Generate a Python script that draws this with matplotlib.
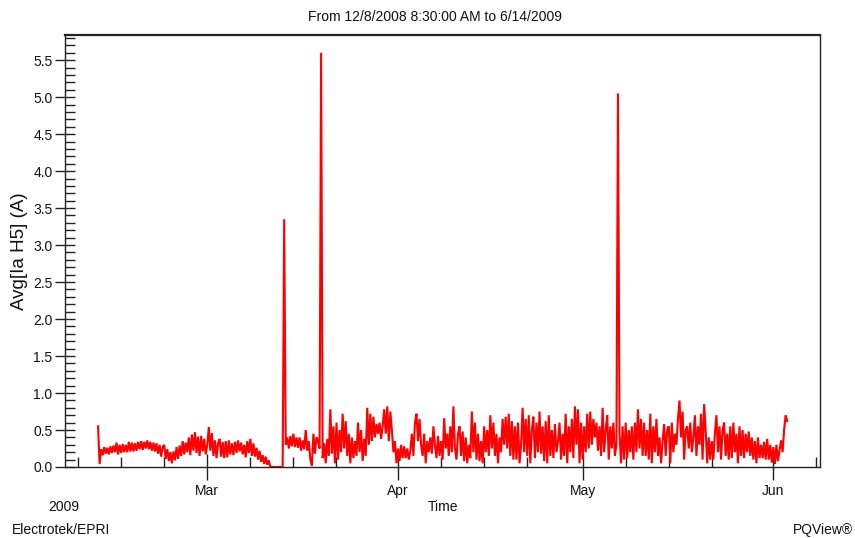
import matplotlib
matplotlib.use("Agg")
import matplotlib.pyplot as plt
import matplotlib.dates as mdates
from matplotlib.ticker import MultipleLocator, FormatStrFormatter
import pandas as pd

plt.rcParams['font.family'] = ['Liberation Sans', 'DejaVu Sans']

# ---- data (Avg Ia H5, amps), sampled every 6 hours ----
feb_start = "2009-02-11 06:00"
feb_vals = [0.55, 0.04, 0.24,
            0.16, 0.27, 0.18, 0.26,
            0.17, 0.28, 0.19, 0.29,
            0.20, 0.33, 0.17, 0.30,
            0.19, 0.31, 0.20, 0.30,
            0.20, 0.34, 0.21, 0.33,
            0.21, 0.32, 0.22, 0.34,
            0.24, 0.35, 0.23, 0.34,
            0.25, 0.36, 0.24, 0.34,
            0.22, 0.33, 0.21, 0.32,
            0.18, 0.30, 0.14, 0.27,
            0.30, 0.11, 0.24, 0.08,
            0.20, 0.05, 0.21, 0.09,
            0.27, 0.11, 0.29, 0.15,
            0.35, 0.17, 0.33, 0.20,
            0.40, 0.16, 0.44, 0.22,
            0.47, 0.19, 0.41, 0.15,
            0.42, 0.21, 0.38, 0.17]

mar_start = "2009-03-01 00:00"
mar_vals = [0.30, 0.54, 0.22, 0.46,
            0.15, 0.36, 0.12, 0.32,
            0.38, 0.14, 0.34, 0.12,
            0.35, 0.13, 0.36, 0.17,
            0.32, 0.16, 0.34, 0.19,
            0.36, 0.21, 0.33, 0.17,
            0.30, 0.13, 0.35, 0.19,
            0.38, 0.15, 0.32, 0.14,
            0.26, 0.10, 0.22, 0.07,
            0.16, 0.04, 0.14, 0.03,
            0.09, 0.00, 0.00, 0.00,
            0.00, 0.00, 0.00, 0.00,
            0.00, 0.00, 3.35, 0.30,
            0.40, 0.25, 0.42, 0.28,
            0.45, 0.27, 0.40, 0.26,
            0.40, 0.22, 0.36, 0.24,
            0.50, 0.22, 0.35, 0.10,
            0.02, 0.45, 0.18, 0.40,
            0.35, 0.25, 5.60, 0.12,
            0.32, 0.05, 0.38, 0.15,
            0.78, 0.18, 0.55, 0.05,
            0.60, 0.10, 0.50, 0.20,
            0.72, 0.25, 0.62, 0.15,
            0.45, 0.05, 0.40, 0.12,
            0.35, 0.15, 0.60, 0.20,
            0.50, 0.08, 0.38, 0.15,
            0.80, 0.30, 0.72, 0.35,
            0.68, 0.40, 0.58, 0.45,
            0.60, 0.38, 0.55, 0.78,
            0.45, 0.82, 0.35, 0.75,
            0.50, 0.20, 0.35, 0.05]

apr_start = "2009-04-01 00:00"
apr_vals = [0.25, 0.08, 0.30, 0.12,
            0.28, 0.12, 0.25, 0.10,
            0.22, 0.45, 0.15, 0.60,
            0.72, 0.35, 0.65, 0.30,
            0.15, 0.45, 0.05, 0.35,
            0.20, 0.40, 0.18, 0.55,
            0.30, 0.12, 0.42, 0.15,
            0.35, 0.10, 0.66, 0.25,
            0.45, 0.15, 0.55, 0.20,
            0.82, 0.25, 0.10, 0.45,
            0.55, 0.15, 0.48, 0.08,
            0.40, 0.05, 0.30, 0.12,
            0.75, 0.20, 0.60, 0.10,
            0.45, 0.08, 0.35, 0.05,
            0.55, 0.20, 0.50, 0.15,
            0.70, 0.25, 0.60, 0.15,
            0.45, 0.05, 0.40, 0.20,
            0.65, 0.30, 0.68, 0.25,
            0.72, 0.15, 0.62, 0.10,
            0.55, 0.10, 0.60, 0.05,
            0.30, 0.80, 0.20, 0.65,
            0.15, 0.70, 0.05, 0.50,
            0.68, 0.12, 0.60, 0.20,
            0.75, 0.18, 0.55, 0.08,
            0.62, 0.05, 0.70, 0.15,
            0.50, 0.12, 0.58, 0.20,
            0.35, 0.60, 0.10, 0.45,
            0.15, 0.72, 0.05, 0.55,
            0.20, 0.65, 0.12, 0.82,
            0.30, 0.78, 0.05, 0.60]

may_start = "2009-05-01 00:00"
may_vals = [0.10, 0.55, 0.20, 0.72,
            0.25, 0.75, 0.30, 0.65,
            0.40, 0.60, 0.22, 0.55,
            0.15, 0.80, 0.20, 0.50,
            0.70, 0.10, 0.55, 0.25,
            0.60, 0.15, 0.30, 5.05,
            0.45, 0.05, 0.55, 0.10,
            0.60, 0.12, 0.50, 0.20,
            0.55, 0.10, 0.60, 0.20,
            0.78, 0.25, 0.65, 0.15,
            0.60, 0.15, 0.50, 0.10,
            0.72, 0.05, 0.55, 0.20,
            0.65, 0.15, 0.40, 0.05,
            0.35, 0.58, 0.15, 0.50,
            0.55, 0.05, 0.60, 0.20,
            0.45, 0.30, 0.65, 0.90,
            0.40, 0.75, 0.10, 0.50,
            0.55, 0.25, 0.60, 0.20,
            0.40, 0.70, 0.15, 0.55,
            0.30, 0.72, 0.10, 0.85,
            0.50, 0.05, 0.40, 0.10,
            0.35, 0.10, 0.45, 0.70,
            0.20, 0.55, 0.10, 0.50,
            0.60, 0.15, 0.45, 0.10,
            0.55, 0.12, 0.60, 0.20,
            0.45, 0.05, 0.55, 0.15,
            0.50, 0.12, 0.45, 0.20,
            0.48, 0.15, 0.40, 0.10,
            0.35, 0.05, 0.40, 0.12,
            0.30, 0.12, 0.34, 0.10,
            0.38, 0.10, 0.30, 0.06]

jun_start = "2009-06-01 00:00"
jun_vals = [0.27, 0.04, 0.30, 0.08,
            0.22, 0.36, 0.20, 0.50,
            0.70, 0.62]

segments = [(feb_start, feb_vals), (mar_start, mar_vals), (apr_start, apr_vals),
            (may_start, may_vals), (jun_start, jun_vals)]

x_start = "2009-02-05 21:00"
x_end = "2009-06-08 14:00"
y_max = 5.84
y_ticks = [0.0, 0.5, 1.0, 1.5, 2.0, 2.5, 3.0, 3.5, 4.0, 4.5, 5.0, 5.5]

title = "From 12/8/2008 8:30:00 AM to 6/14/2009"
ylabel = "Avg[Ia H5] (A)"
xlabel = "Time"

times = []
values = []
for st, vals in segments:
    idx = pd.date_range(st, periods=len(vals), freq="6h")
    times.extend(idx.to_pydatetime())
    values.extend(vals)

W, H = 855, 538
FS = 10
fig = plt.figure(figsize=(W / 100, H / 100), dpi=100)
ax = fig.add_axes([65 / W, 1 - 467 / H, (820 - 65) / W, (467 - 35) / H])

ax.plot(times, values, color="#ff0000", lw=1.5, solid_joinstyle="miter")

ax.set_xlim(pd.Timestamp(x_start), pd.Timestamp(x_end))
ax.set_ylim(0, y_max)

ax.xaxis.set_major_locator(mdates.MonthLocator())
ax.xaxis.set_major_formatter(mdates.DateFormatter("%b"))
ax.xaxis.set_minor_locator(mdates.DayLocator(bymonthday=[8, 15, 22]))
ax.set_yticks(y_ticks)
ax.yaxis.set_major_formatter(FormatStrFormatter("%.1f"))
ax.yaxis.set_minor_locator(MultipleLocator(0.1))

edge = "#222222"
for s in ["left", "bottom", "right"]:
    ax.spines[s].set_linewidth(1.0)
    ax.spines[s].set_color(edge)
ax.spines["top"].set_linewidth(1.6)
ax.spines["top"].set_color(edge)

ax.tick_params(axis="y", which="major", direction="inout", length=15, width=1,
               color=edge, pad=1.5, labelsize=FS, labelcolor="#111111")
ax.tick_params(axis="y", which="minor", direction="in", length=7, width=1, color=edge)
ax.tick_params(axis="x", which="major", direction="inout", length=19, width=1,
               color=edge, pad=2.5, labelsize=FS, labelcolor="#111111")
ax.tick_params(axis="x", which="minor", direction="in", length=7, width=1, color=edge)

ax.set_ylabel(ylabel, fontsize=13.5, color="#111111")
ax.yaxis.set_label_coords((28 - 65) / 755, 0.5)
fig.text(443 / W, 1 - 507 / H, xlabel, ha="center", va="center", fontsize=FS, color="#111111")
fig.text(64 / W, 1 - 507 / H, "2009", ha="center", va="center", fontsize=FS, color="#111111")
fig.text(434.5 / W, 1 - 17 / H, title, ha="center", va="center", fontsize=FS, color="#111111")
fig.text(12 / W, 1 - 530 / H, "Electrotek/EPRI", ha="left", va="center", fontsize=FS, color="#111111")
fig.text(853 / W, 1 - 530 / H, "PQView®", ha="right", va="center", fontsize=FS, color="#111111")

fig.savefig("out.png", dpi=100)
